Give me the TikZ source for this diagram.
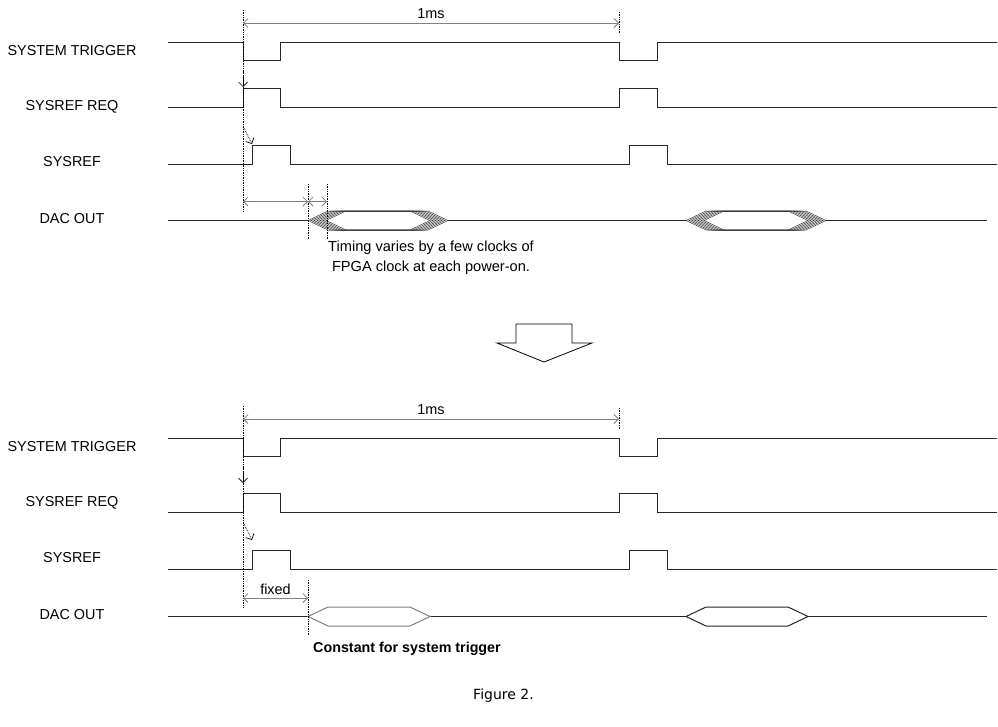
\documentclass[tikz,border=0pt]{standalone}
\usepackage{fontspec}
\setmainfont{Liberation Sans}
\newfontfamily\captionfont{DejaVu Sans}
\usetikzlibrary{arrows.meta, positioning}

\begin{document}
\begin{tikzpicture}[
    x=1pt, y=-1pt,
    wave/.style={
        line width=1pt,
        black!85,
    },
    hatch/.style={
        line width=0.5pt,
        black!80,
    },
    dim/.style={
        line width=0.8pt,
        gray,
        {Straight Barb[length=4.5pt,width=9pt]}-{Straight Barb[length=4.5pt,width=9pt]},
    },
    guide/.style={
        densely dotted,
        line width=0.7pt,
    },
    cue/.style={
        densely dotted,
        line width=0.7pt,
        -{Straight Barb[length=4.5pt,width=9pt]},
    },
    signame/.style={
        font=\fontsize{14.4}{17}\selectfont,
        text=black,
    },
    note/.style={
        font=\fontsize{14.6}{20}\selectfont,
        align=center,
        inner sep=0pt,
    }
]
    \useasboundingbox (0,0) rectangle (998,726);

    % Both diagrams
    \foreach \dy/\ds [count=\k] in {0/0, 396/405} {
    \begin{scope}[yshift=-\dy]
        % Signal names
        \node[signame] (trig\k) at (72,51) {SYSTEM TRIGGER};
        \node[signame] (req\k) at (72,107) {SYSREF REQ};
        \node[signame] (ref\k) at (72,162) {SYSREF};
        \node[signame] (dac\k) at (72,219) {DAC OUT};

        % Waveforms
        \draw[wave] (168,42) -- (243,42) |- (280,60) |- (619,42) |- (657,60) |- (997,42);
        \begin{scope}[yshift=\dy-\ds]
            \draw[wave] (168,107) -| (243,88) -| (280,107) -| (619,88) -| (657,107) -- (997,107);
            \draw[wave] (168,164) -| (252,145) -| (290,164) -| (629,145) -| (667,164) -- (997,164);
        \end{scope}

        % Period marker
        \coordinate (start\k) at (243,23);
        \coordinate (period\k) at (619,23);
        \draw[guide] (243,10) -- (243,212);
        \draw[guide] (619,12) -- (619,33);
        \draw[dim] (start\k) -- (period\k) node[signame, midway, yshift=9pt] (ms\k) {1ms};

        % Trigger to request to sysref
        \draw[cue] (243,70) -- (243,87);
        \draw[cue] (244,128) -- (252,144);
    \end{scope}
    }

    % Upper DAC OUT
    \draw[wave] (168,220.5) -- (308,220.5);
    \draw[wave] (448,220.5) -- (686,220.5);
    \draw[wave] (826,220.5) -- (987,220.5);
    \foreach \x in {0,3,...,18} {
        \draw[hatch] (308+\x,220.5) -- ++(20,-9.5) -- ++(82,0) -- ++(20,9.5) -- ++(-20,9.5) -- ++(-82,0) -- cycle;
        \draw[hatch] (686+\x,220.5) -- ++(20,-9.5) -- ++(82,0) -- ++(20,9.5) -- ++(-20,9.5) -- ++(-82,0) -- cycle;
    }
    \draw[guide] (308,184) -- (308,239);
    \draw[guide] (327,184) -- (327,239);
    \coordinate (dacref1) at (243,201.5);
    \coordinate (dacmin) at (308,201.5);
    \coordinate (dacmax) at (327,201.5);
    \draw[dim] (dacref1) -- (dacmin);
    \draw[dim] (dacmin) -- (dacmax);
    \node[note, anchor=north] (vary) at (431,240.5) {Timing varies by a few clocks of\\FPGA clock at each power-on.};

    % Transition arrow
    \draw[line width=0.8pt] (516,324) -- (572,324) -- (572,343) -- (592,343) -- (544,362) -- (497,343) -- (516,343) -- cycle;

    % Lower DAC OUT
    \begin{scope}[yshift=-396]
        \draw[wave] (168,220.5) -- (308,220.5);
        \draw[wave] (430,220.5) -- (686,220.5);
        \draw[wave] (808,220.5) -- (987,220.5);
        \draw[wave, gray] (308,220.5) -- ++(20,-9.5) -- ++(82,0) -- ++(20,9.5) -- ++(-20,9.5) -- ++(-82,0) -- cycle;
        \draw[wave] (686,220.5) -- ++(20,-9.5) -- ++(82,0) -- ++(20,9.5) -- ++(-20,9.5) -- ++(-82,0) -- cycle;
        \draw[guide] (308,184) -- (308,239);
        \coordinate (dacref2) at (243,202);
        \coordinate (daclat) at (308,202);
        \draw[dim] (dacref2) -- (daclat) node[signame, midway, yshift=9pt] (fixed) {fixed};
        \node[signame, font=\bfseries\fontsize{14.3}{17}\selectfont, anchor=base] (const) at (407,256) {Constant for system trigger};
    \end{scope}

    % Caption
    \node[font=\captionfont\fontsize{14}{17}\selectfont, anchor=base] (figcap) at (503.5,699.5) {Figure 2.};
\end{tikzpicture}
\end{document}
